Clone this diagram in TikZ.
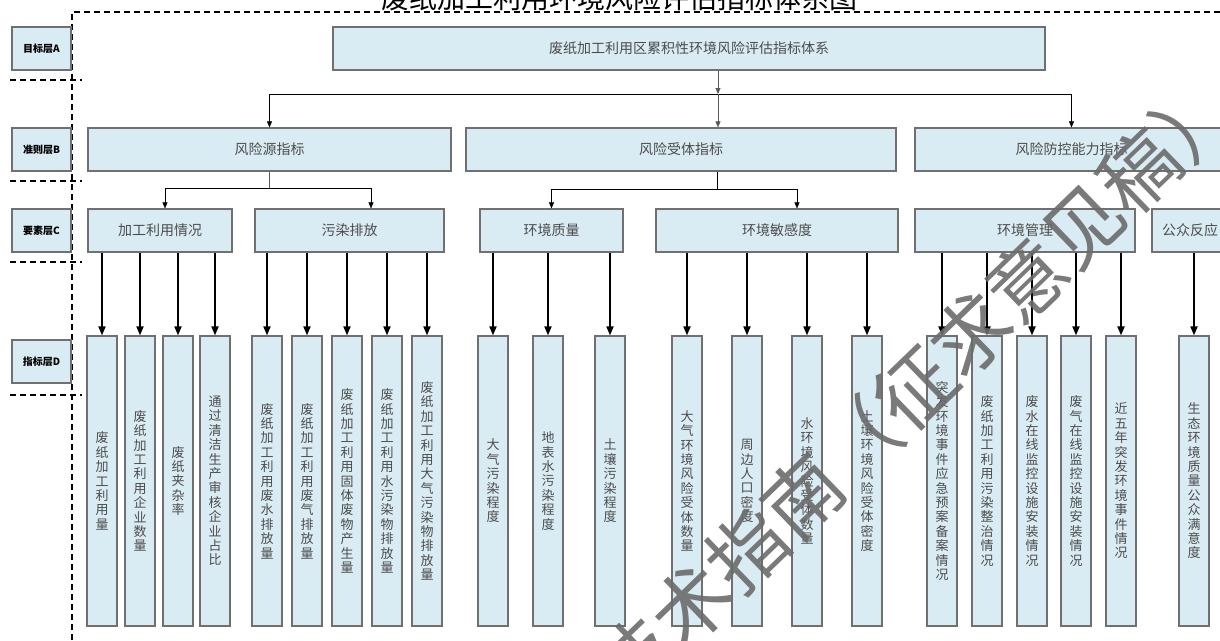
\documentclass[tikz,border=0pt]{standalone}
\usepackage{fontspec}
\setmainfont{Noto Sans CJK SC}
\usetikzlibrary{arrows.meta}
\XeTeXlinebreaklocale "zh"
\XeTeXlinebreakskip=0pt plus 1pt
\definecolor{boxfill}{RGB}{218,236,243}
\definecolor{boxline}{RGB}{112,112,112}
\tikzset{
  blk/.style={draw=boxline,fill=boxfill,line width=1.2pt,inner sep=0pt,text=black!70,font=\fontsize{14}{16}\selectfont},
  lvl/.style={blk,minimum width=59pt,minimum height=43pt,text=black,font=\fontsize{10}{12}\selectfont\bfseries},
  row/.style={blk,minimum height=43pt},
  col/.style={blk,minimum width=30pt,minimum height=290pt,text width=14pt,align=center,font=\fontsize{13}{14.4}\selectfont},
  sep/.style={dash pattern=on 6pt off 4pt,line width=1.3pt},
  dn/.style={-{Triangle[length=9pt,width=7pt]},line width=1.8pt}
}
\begin{document}
\begin{tikzpicture}[x=1pt,y=-1pt,>={Triangle[length=6pt,width=5pt]}]
\useasboundingbox (0,0) rectangle (1220,640);
\node[anchor=base,font=\fontsize{28}{30}\selectfont] (title) at (619,8) {废纸加工利用环境风险评估指标体系图};
\draw[sep] (72,640) -- (72,12) -- (1220,12);
\draw[sep] (10,80) -- (82,80);
\draw[sep] (10,181) -- (82,181);
\draw[sep] (10,262) -- (82,262);
\draw[sep] (10,395) -- (82,395);
\node[lvl] (lA) at (41.5,48.5) {目标层A};
\node[lvl] (lB) at (41.5,149.5) {准则层B};
\node[lvl] (lC) at (41.5,230.5) {要素层C};
\node[lvl] (lD) at (41.5,361.5) {指标层D};
\node[row,minimum width=712pt] (top) at (689,48.5) {废纸加工利用区累积性环境风险评估指标体系};
\node[row,minimum width=363pt] (b1) at (269.5,149.5) {风险源指标};
\node[row,minimum width=430pt] (b2) at (681,149.5) {风险受体指标};
\node[row,minimum width=313pt] (b3) at (1071.5,149.5) {风险防控能力指标};
\node[row,minimum width=144pt] (c1) at (160,230.5) {加工利用情况};
\node[row,minimum width=189pt] (c2) at (349.5,230.5) {污染排放};
\node[row,minimum width=143pt] (c3) at (551.5,230.5) {环境质量};
\node[row,minimum width=242pt] (c4) at (777,230.5) {环境敏感度};
\node[row,minimum width=220pt] (c5) at (1025,230.5) {环境管理};
\node[row,minimum width=76pt] (c6) at (1190,230.5) {公众反应};
\node[col] (d1) at (102,481) {废纸加工利用量};
\node[col] (d2) at (140,481) {废纸加工利用企业数量};
\node[col] (d3) at (178,481) {废纸夹杂率};
\node[col] (d4) at (215,481) {通过清洁生产审核企业占比};
\node[col] (d5) at (267,481) {废纸加工利用废水排放量};
\node[col] (d6) at (307,481) {废纸加工利用废气排放量};
\node[col] (d7) at (347,481) {废纸加工利用固体废物产生量};
\node[col] (d8) at (387,481) {废纸加工利用水污染物排放量};
\node[col] (d9) at (427,481) {废纸加工利用大气污染物排放量};
\node[col] (d10) at (493,481) {大气污染程度};
\node[col] (d11) at (548,481) {地表水污染程度};
\node[col] (d12) at (610,481) {土壤污染程度};
\node[col] (d13) at (687,481) {大气环境风险受体数量};
\node[col] (d14) at (747,481) {周边人口密度};
\node[col] (d15) at (807,481) {水环境风险受体数量};
\node[col] (d16) at (867,481) {土壤环境风险受体密度};
\node[col] (d17) at (942,481) {突发环境事件应急预案备案情况};
\node[col] (d18) at (987,481) {废纸加工利用污染整治情况};
\node[col] (d19) at (1032,481) {废水在线监控设施安装情况};
\node[col] (d20) at (1076,481) {废气在线监控设施安装情况};
\node[col] (d21) at (1121,481) {近五年突发环境事件情况};
\node[col] (d22) at (1194,481) {生态环境质量公众满意度};
\coordinate (jA) at (718,94);
\draw[->,black!65] ([xshift=29pt]top.south) -- (jA);
\draw (b1.north |- jA) -- (b3.north |- jA);
\draw[->] (b1.north |- jA) -- (b1.north);
\draw[->,black!65] (jA) -- (jA |- b2.north);
\draw[->] (b3.north |- jA) -- (b3.north);
\coordinate (jB) at (269.5,188);
\draw[black!65] (b1.south) -- (jB);
\draw[->] (jB) -| ([xshift=5pt]c1.north);
\draw[->] (jB) -| ([xshift=21.5pt]c2.north);
\coordinate (jC) at (717,189);
\draw ([xshift=36pt]b2.south) -- (jC);
\draw[->] (jC) -| (c3.north);
\draw[->] (jC) -| ([xshift=20pt]c4.north);
\draw[dn] (c1.south -| d1.north) -- (d1.north);
\draw[dn] (c1.south -| d2.north) -- (d2.north);
\draw[dn] (c1.south -| d3.north) -- (d3.north);
\draw[dn] (c1.south -| d4.north) -- (d4.north);
\draw[dn] (c2.south -| d5.north) -- (d5.north);
\draw[dn] (c2.south -| d6.north) -- (d6.north);
\draw[dn] (c2.south -| d7.north) -- (d7.north);
\draw[dn] (c2.south -| d8.north) -- (d8.north);
\draw[dn] (c2.south -| d9.north) -- (d9.north);
\draw[dn] (c3.south -| d10.north) -- (d10.north);
\draw[dn] (c3.south -| d11.north) -- (d11.north);
\draw[dn] (c3.south -| d12.north) -- (d12.north);
\draw[dn] (c4.south -| d13.north) -- (d13.north);
\draw[dn] (c4.south -| d14.north) -- (d14.north);
\draw[dn] (c4.south -| d15.north) -- (d15.north);
\draw[dn] (c4.south -| d16.north) -- (d16.north);
\draw[dn] (c5.south -| d17.north) -- (d17.north);
\draw[dn] (c5.south -| d18.north) -- (d18.north);
\draw[dn] (c5.south -| d19.north) -- (d19.north);
\draw[dn] (c5.south -| d20.north) -- (d20.north);
\draw[dn] (c5.south -| d21.north) -- (d21.north);
\draw[dn] (c6.south -| d22.north) -- (d22.north);
\node[rotate=44,text=black!58,opacity=0.9,font=\fontsize{78}{80}\selectfont] (wm) at (915,388) {技术指南（征求意见稿）};
\end{tikzpicture}
\end{document}
